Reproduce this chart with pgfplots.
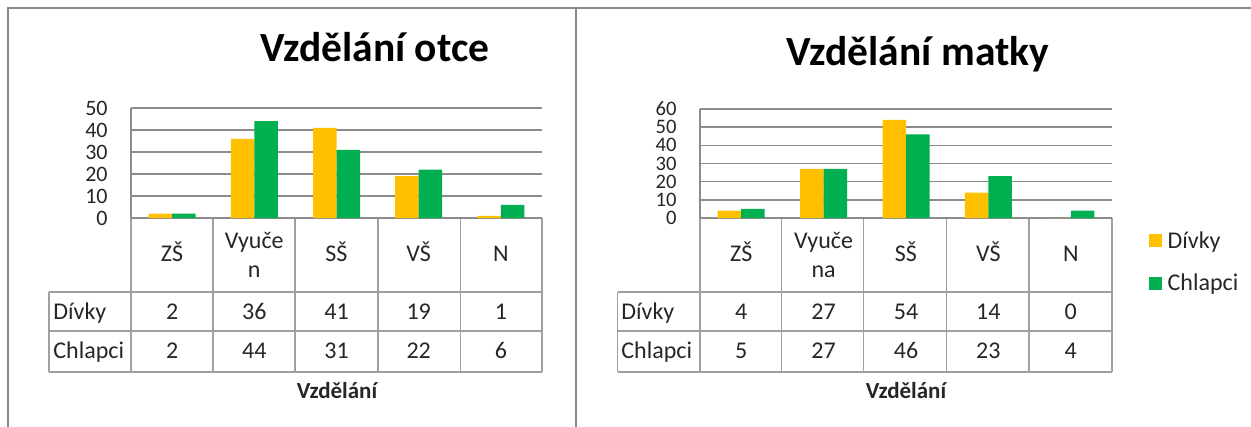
\documentclass[border=0pt]{standalone}
\usepackage{pgfplots}
\pgfplotsset{compat=1.18}
\usepackage{pgfplotstable}
\usepackage{fontspec}
\setmainfont{Carlito}
\definecolor{yel}{HTML}{FFC000}
\definecolor{grn}{HTML}{00B050}
\definecolor{gridc}{HTML}{8C8C8C}
\definecolor{tabc}{HTML}{A0A0A0}
\definecolor{framec}{HTML}{8A8A8A}
\definecolor{txt}{HTML}{262626}

\pgfplotstableread{
x d c
0 2 2
1 36 44
2 41 31
3 19 22
4 1 6
}\otce

\pgfplotstableread{
x d c
0 4 5
1 27 27
2 54 46
3 14 23
4 0 4
}\matky

\newcommand\tabfont{\fontsize{12pt}{14.5pt}\selectfont}
\newcommand\ticfont{\fontsize{11pt}{13pt}\selectfont}
\newcommand\ticfontR{\fontsize{10.3pt}{12pt}\selectfont}
\newcommand\titfont{\fontsize{20.75pt}{24pt}\selectfont\bfseries}
\newcommand\labfont{\fontsize{11.5pt}{14pt}\selectfont\bfseries}

\pgfplotsset{
  mychart/.style={
    scale only axis, anchor=south west,
    xmin=-0.5, xmax=4.5, ymin=0,
    xtick={0,...,4},
    axis x line*=bottom, axis y line*=left,
    x axis line style={draw=none},
    y axis line style={draw=gridc, line width=0.7pt, -},
    major tick length=0pt,
    ymajorgrids, grid style={draw=gridc, line width=0.7pt},
    /pgf/number format/assume math mode=true,
    yticklabel style={font=\ticfont, text=txt, inner sep=0pt, xshift=-11.5pt},
    xticklabel style={font=\tabfont, text=txt, anchor=base, inner sep=0pt, yshift=-21.85pt},
    clip=false,
  },
  yelbar/.style={ybar, bar width=11.75pt, bar shift=-5.875pt, fill=yel, draw=none},
  grnbar/.style={ybar, bar width=11.75pt, bar shift=5.875pt, fill=grn, draw=none},
  rowvals/.style={draw=none, mark=none, forget plot, nodes near coords,
    point meta=explicit symbolic,
    nodes near coords style={font=\tabfont, text=txt, anchor=base, inner sep=0pt, yshift=#1}},
}

\begin{document}
\begin{tikzpicture}
\useasboundingbox (0,0) rectangle (625.5pt,-213.5pt);
\begin{scope}[x=0.5pt,y=-0.5pt]
  % frames
  \draw[framec, line width=0.8pt] (8,427) -- (8,8) -- (1251,8);
  \draw[framec, line width=1pt] (576,8) -- (576,427);
  % left table grid
  \foreach \cx in {131,213,295,378,460.5,542} \draw[tabc, line width=0.75pt] (\cx,218) -- (\cx,372);
  \draw[tabc, line width=0.75pt] (131,218) -- (542,218);
  \foreach \ry in {292,331,372} \draw[tabc, line width=0.75pt] (49,\ry) -- (542,\ry);
  \draw[tabc, line width=0.75pt] (49,292) -- (49,372);
  % right table grid
  \foreach \cx in {700,781.7,863.7,946.7,1029,1112} \draw[tabc, line width=0.75pt] (\cx,218) -- (\cx,372);
  \draw[tabc, line width=0.75pt] (700,218) -- (1112,218);
  \foreach \ry in {292,331,372} \draw[tabc, line width=0.75pt] (617.5,\ry) -- (1112,\ry);
  \draw[tabc, line width=0.75pt] (617.5,292) -- (617.5,372);
  % row labels
  \node[anchor=base west, font=\tabfont, text=txt, inner sep=0pt] at (53,319.3) {Dívky};
  \node[anchor=base west, font=\tabfont, text=txt, inner sep=0pt] at (53,358.3) {Chlapci};
  \node[anchor=base west, font=\tabfont, text=txt, inner sep=0pt] at (621,319.3) {Dívky};
  \node[anchor=base west, font=\tabfont, text=txt, inner sep=0pt] at (621,358.3) {Chlapci};
  % titles
  \node[anchor=base, font=\titfont, text=black, inner sep=0pt] at (375,61.7) {Vzdělání otce};
  \node[anchor=base, font=\titfont, text=black, inner sep=0pt] at (918,66) {Vzdělání matky};
  % axis labels
  \node[anchor=base, font=\labfont, text=txt, inner sep=0pt] at (337,398) {Vzdělání};
  \node[anchor=base, font=\labfont, text=txt, inner sep=0pt] at (906,398) {Vzdělání};
\end{scope}

\begin{axis}[mychart, at={(65.5pt,-109pt)}, width=205.5pt, height=55pt,
  ymax=50, ytick={0,10,...,50},
  xticklabels={ZŠ,{\raisebox{-7.65pt}{\begin{tabular}[b]{@{}c@{}}Vyuče\\n\end{tabular}}},SŠ,VŠ,N}]
  \addplot[yelbar] table[x=x,y=d]{\otce};
  \addplot[grnbar] table[x=x,y=c]{\otce};
  \addplot[rowvals=-50.65pt] table[x=x, y expr=0, meta=d]{\otce};
  \addplot[rowvals=-70.15pt] table[x=x, y expr=0, meta=c]{\otce};
\end{axis}

\begin{axis}[mychart, at={(350pt,-109pt)}, width=206pt, height=54.5pt,
  ymax=60, ytick={0,10,...,60},
  yticklabel style={font=\ticfontR},
  xticklabels={ZŠ,{\raisebox{-7.65pt}{\begin{tabular}[b]{@{}c@{}}Vyuče\\na\end{tabular}}},SŠ,VŠ,N},
  legend style={at={(1.088,-0.12)}, anchor=north west, draw=none, fill=none,
    font=\tabfont, text=txt, inner sep=0pt, row sep=11.5pt, nodes={inner sep=0pt},
    /tikz/every odd column/.append style={column sep=3pt}},
  legend cell align=left,
  legend image code/.code={\fill[#1] (0pt,-3pt) rectangle (6.5pt,3.5pt);}]
  \addplot[yelbar] table[x=x,y=d]{\matky};
  \addlegendentry{Dívky}
  \addplot[grnbar] table[x=x,y=c]{\matky};
  \addlegendentry{Chlapci}
  \addplot[rowvals=-50.65pt] table[x=x, y expr=0, meta=d]{\matky};
  \addplot[rowvals=-70.15pt] table[x=x, y expr=0, meta=c]{\matky};
\end{axis}
\end{tikzpicture}
\end{document}
